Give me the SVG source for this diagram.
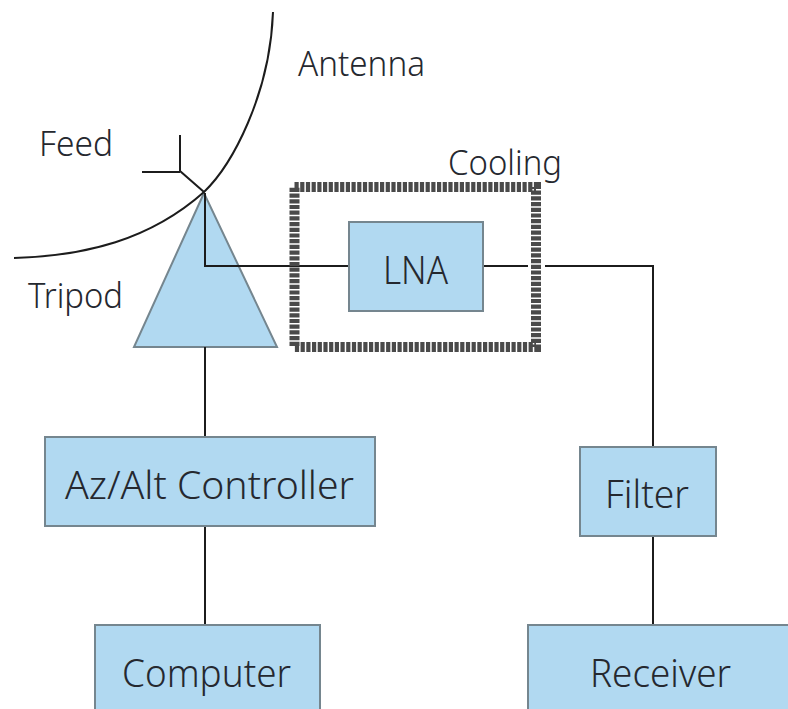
<svg xmlns="http://www.w3.org/2000/svg" width="788" height="709" viewBox="0 0 788 709">
<style>
.box{fill:#b1d9f1;stroke:#75868f;stroke-width:2}
.ln{fill:none;stroke:#1c1c1c;stroke-width:2}
.t{font-family:"Noto Sans","Open Sans",sans-serif;font-size:39px;fill:#25282f;font-weight:300}
.s{font-size:34px}
</style>
<rect width="788" height="709" fill="#fff"/>
<g id="tripod"><polygon class="box" points="204,193 134,347 277,347"/></g>
<g id="connectors">
<path class="ln" d="M273 12C270 95 232 165 204 192C150 240 85 256 14 258"/>
<path class="ln" d="M204 192L180 171V135M180 172H142"/>
<path class="ln" d="M205 193V266H350"/>
<path class="ln" d="M483 266H528M545 266H653V447"/>
<path class="ln" d="M205 347V437M205 525V625M653 536V625"/>
</g>
<g id="cooling"><rect x="294.500" y="187" width="241.500" height="160" fill="none" stroke="#4a4a4a" stroke-width="10" stroke-dasharray="4.200 1.500"/><text class="t s" x="448" y="175" textLength="114" lengthAdjust="spacingAndGlyphs">Cooling</text></g>
<g id="lna"><rect class="box" x="349" y="222" width="134" height="89"/><text class="t" x="383" y="284" textLength="65" lengthAdjust="spacingAndGlyphs">LNA</text></g>
<g id="controller"><rect class="box" x="45" y="437" width="330" height="89"/><text class="t" x="65" y="499" textLength="289" lengthAdjust="spacingAndGlyphs">Az/Alt Controller</text></g>
<g id="filter"><rect class="box" x="580" y="447" width="136" height="89"/><text class="t" x="605" y="508" textLength="84" lengthAdjust="spacingAndGlyphs">Filter</text></g>
<g id="computer"><rect class="box" x="95" y="625" width="225" height="90"/><text class="t" x="122" y="687" textLength="169" lengthAdjust="spacingAndGlyphs">Computer</text></g>
<g id="receiver"><rect class="box" x="528" y="625" width="265" height="90"/><text class="t" x="590" y="687" textLength="141" lengthAdjust="spacingAndGlyphs">Receiver</text></g>
<g id="labels">
<text class="t s" x="298" y="76" textLength="127" lengthAdjust="spacingAndGlyphs">Antenna</text>
<text class="t s" x="39" y="156" textLength="74" lengthAdjust="spacingAndGlyphs">Feed</text>
<text class="t s" x="28" y="308" textLength="95" lengthAdjust="spacingAndGlyphs">Tripod</text>
</g>
</svg>
